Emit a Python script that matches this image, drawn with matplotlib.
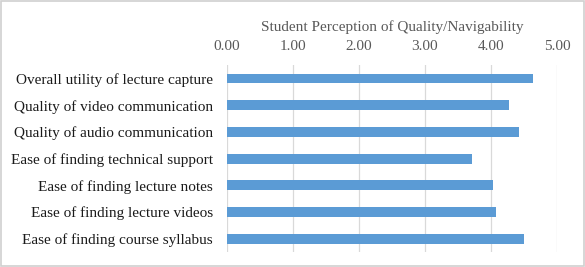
import matplotlib.pyplot as plt
from matplotlib.patches import Rectangle

categories = [
    "Overall utility of lecture capture",
    "Quality of video communication",
    "Quality of audio communication",
    "Ease of finding technical support",
    "Ease of finding lecture notes",
    "Ease of finding lecture videos",
    "Ease of finding course syllabus",
]
scores = [4.63, 4.27, 4.43, 3.72, 4.03, 4.07, 4.50]
ticks = [0, 1, 2, 3, 4, 5]
tick_labels = ["0.00", "1.00", "2.00", "3.00", "4.00", "5.00"]

plt.rcParams['font.family'] = ['Liberation Serif', 'DejaVu Serif']
plt.rcParams['font.size'] = 11

fig = plt.figure(figsize=(5.85, 2.67), dpi=100)
ax = fig.add_axes([0.388, 0.056, 0.564, 0.700])

# bars, first category at the top
ypos = list(range(len(categories)))
ax.barh(ypos, scores, height=0.37, color='#5B9BD5', zorder=3)
ax.set_ylim(len(categories) - 0.5, -0.5)
ax.set_yticks(ypos)
ax.set_yticklabels(categories, color='#1A1A1A')

ax.set_xlim(0, 5)
ax.set_xticks(ticks)
ax.set_xticklabels(tick_labels, color='#595959')
ax.xaxis.tick_top()
ax.xaxis.set_label_position('top')
ax.set_xlabel("Student Perception of Quality/Navigability", color='#595959', labelpad=6)

ax.grid(axis='x', color='#D9D9D9', linewidth=0.9, zorder=0)
for s in ax.spines.values():
    s.set_visible(False)
ax.tick_params(axis='x', length=0, pad=9)
ax.tick_params(axis='y', length=0, pad=10)

# light frame round the picture
fig.patches.append(Rectangle((0.002, 0.004), 0.996, 0.992, transform=fig.transFigure,
                             fill=False, edgecolor='#D0D0D0', linewidth=1.2))

fig.savefig('out.png', dpi=100)
